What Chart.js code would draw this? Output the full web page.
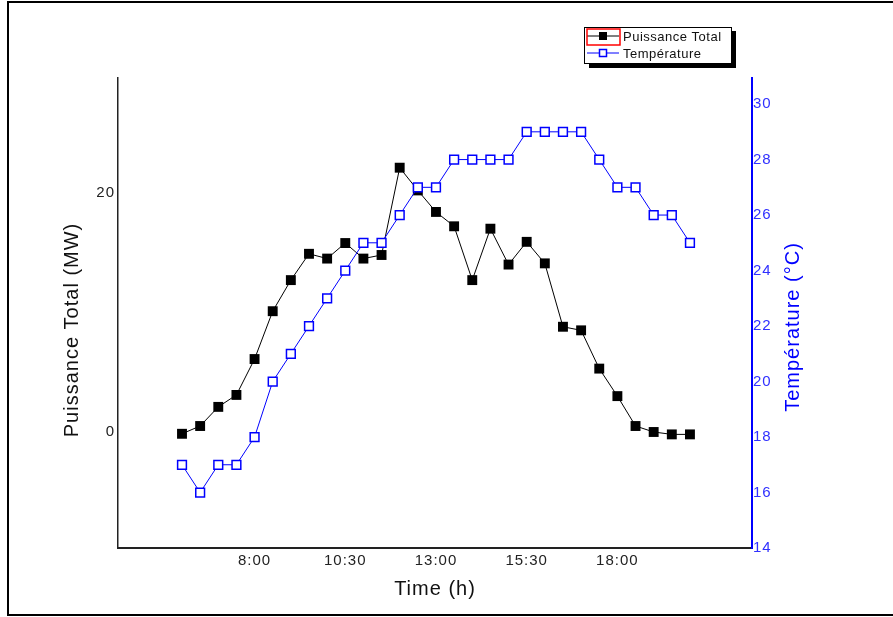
<!DOCTYPE html>
<html>
<head>
<meta charset="utf-8">
<style>
  html, body { margin: 0; padding: 0; background: #fff; }
  #wrap { width: 893px; height: 617px; position: relative; }
</style>
<script src="https://cdn.jsdelivr.net/npm/chart.js@4.4.1/dist/chart.umd.min.js"></script>
</head>
<body>
<div id="wrap"><canvas id="chart" width="893" height="617"></canvas></div>
<script>
// Heures de mesure (pas d'une demi-heure)
const times = ['6:00', '6:30', '7:00', '7:30', '8:00', '8:30', '9:00', '9:30', '10:00', '10:30',
    '11:00', '11:30', '12:00', '12:30', '13:00', '13:30', '14:00', '14:30', '15:00', '15:30',
    '16:00', '16:30', '17:00', '17:30', '18:00', '18:30', '19:00', '19:30', '20:00'];

// Puissance totale (MW)
const puissance = [-0.15, 0.5, 2.1, 3.1, 6.1, 10.1, 12.7, 14.9, 14.5, 15.8,
    14.5, 14.8, 22.1, 20.2, 18.4, 17.2, 12.7, 17.0, 14.0, 15.9,
    14.1, 8.8, 8.5, 5.3, 3.0, 0.5, 0.0, -0.2, -0.2];

// Température (°C)
const temperature = [17, 16, 17, 17, 18, 20, 21, 22, 23, 24,
    25, 25, 26, 27, 27, 28, 28, 28, 28, 29,
    29, 29, 29, 28, 27, 27, 26, 26, 25];

// Graduations
const xTicks = ['8:00', '10:30', '13:00', '15:30', '18:00'];
const yTicks = [0, 20];
const y2Ticks = [14, 16, 18, 20, 22, 24, 26, 28, 30];

const FONT = "'Liberation Sans', Arial, sans-serif";
const BLUE = '#0000ff';

// "10:30" -> 10.5
function toHours(t) {
    const [h, m] = t.split(':').map(Number);
    return h + m / 60;
}
function fmtHours(v) {
    const h = Math.floor(v);
    const m = Math.round((v - h) * 60);
    return h + ':' + String(m).padStart(2, '0');
}

const hours = times.map(toHours);

// Cadre, titres verticaux et légende dessinés à la main
const decor = {
    id: 'decor',
    beforeDraw(chart) {
        const ctx = chart.ctx;
        ctx.letterSpacing = '1px'; // texte un peu espacé comme l'original
        ctx.save();
        ctx.strokeStyle = '#000';
        ctx.lineWidth = 2;
        ctx.strokeRect(8, 2, 900, 613);
        ctx.restore();
    },
    afterDraw(chart) {
        const ctx = chart.ctx;
        ctx.save();

        // Titres des axes Y
        ctx.font = '20px ' + FONT;
        ctx.textAlign = 'center';
        ctx.textBaseline = 'middle';
        ctx.fillStyle = '#111';
        ctx.translate(72, 330);
        ctx.rotate(-Math.PI / 2);
        ctx.fillText('Puissance Total (MW)', 0, 0);
        ctx.setTransform(1, 0, 0, 1, 0, 0);
        ctx.fillStyle = BLUE;
        ctx.translate(793, 327);
        ctx.rotate(-Math.PI / 2);
        ctx.fillText('Température (°C)', 0, 0);
        ctx.setTransform(1, 0, 0, 1, 0, 0);

        // Légende
        ctx.fillStyle = '#000';
        ctx.fillRect(589, 31, 147, 37);
        ctx.fillStyle = '#fff';
        ctx.fillRect(584, 27, 147, 36);
        ctx.strokeStyle = '#000';
        ctx.lineWidth = 1;
        ctx.strokeRect(584.5, 27.5, 147, 36);

        ctx.lineWidth = 1;
        ctx.beginPath();
        ctx.moveTo(587, 36); ctx.lineTo(619, 36);
        ctx.stroke();
        ctx.fillStyle = '#000';
        ctx.fillRect(599, 32, 8, 8);
        ctx.strokeStyle = '#ff0000';
        ctx.lineWidth = 1.5;
        ctx.strokeRect(587, 29, 33, 16);

        ctx.strokeStyle = BLUE;
        ctx.lineWidth = 1;
        ctx.beginPath();
        ctx.moveTo(587, 53); ctx.lineTo(619, 53);
        ctx.stroke();
        ctx.fillStyle = '#fff';
        ctx.fillRect(599.5, 49.5, 7, 7);
        ctx.lineWidth = 1.5;
        ctx.strokeRect(599.5, 49.5, 7, 7);

        ctx.font = '13px ' + FONT;
        ctx.letterSpacing = '0.5px';
        ctx.textAlign = 'left';
        ctx.fillStyle = '#111';
        ctx.fillText('Puissance Total', 623, 37);
        ctx.fillText('Température', 623, 54);
        ctx.restore();
    }
};

const ctx = document.getElementById('chart').getContext('2d');
new Chart(ctx, {
    type: 'line',
    data: {
        datasets: [{
            label: 'Puissance Total',
            data: hours.map((h, i) => ({ x: h, y: puissance[i] })),
            yAxisID: 'y',
            borderColor: '#000',
            borderWidth: 1,
            pointStyle: 'rect',
            pointRadius: 7,
            pointBackgroundColor: '#000',
            pointBorderColor: '#000',
            pointBorderWidth: 0,
            tension: 0,
            order: 1
        }, {
            label: 'Température',
            data: hours.map((h, i) => ({ x: h, y: temperature[i] })),
            yAxisID: 'y2',
            borderColor: BLUE,
            borderWidth: 1,
            pointStyle: 'rect',
            pointRadius: 6.2,
            pointBackgroundColor: '#fff',
            pointBorderColor: BLUE,
            pointBorderWidth: 1.5,
            tension: 0,
            order: 0
        }]
    },
    options: {
        responsive: false,
        animation: false,
        layout: { padding: { top: 78, left: 61, right: 89, bottom: 16 } },
        plugins: {
            legend: { display: false },
            tooltip: { enabled: false }
        },
        scales: {
            x: {
                type: 'linear',
                min: 4.236,
                max: 21.71,
                afterBuildTicks: scale => { scale.ticks = xTicks.map(t => ({ value: toHours(t) })); },
                afterFit: scale => { scale.height = 53; },
                grid: { display: false, drawTicks: false },
                border: { display: true, color: '#222', width: 2 },
                ticks: {
                    padding: 4,
                    maxRotation: 0,
                    color: '#222',
                    font: { family: FONT, size: 15 },
                    callback: v => fmtHours(v)
                },
                title: {
                    display: true,
                    text: 'Time (h)',
                    color: '#111',
                    padding: 0,
                    font: { family: FONT, size: 20 }
                }
            },
            y: {
                position: 'left',
                min: -9.7,
                max: 29.6,
                afterBuildTicks: scale => { scale.ticks = yTicks.map(v => ({ value: v })); },
                afterFit: scale => { scale.width = 57; },
                grid: { display: false, drawTicks: false },
                border: { display: true, color: '#222', width: 1.5 },
                ticks: {
                    padding: 3,
                    color: '#222',
                    font: { family: FONT, size: 15 }
                }
            },
            y2: {
                position: 'right',
                min: 14,
                max: 30.94,
                afterBuildTicks: scale => { scale.ticks = y2Ticks.map(v => ({ value: v })); },
                afterFit: scale => { scale.width = 52; },
                grid: { display: false, drawTicks: false },
                border: { display: true, color: BLUE, width: 2 },
                ticks: {
                    padding: 1,
                    color: '#3030ff',
                    font: { family: FONT, size: 15 }
                }
            }
        }
    },
    plugins: [decor]
});
</script>
</body>
</html>
